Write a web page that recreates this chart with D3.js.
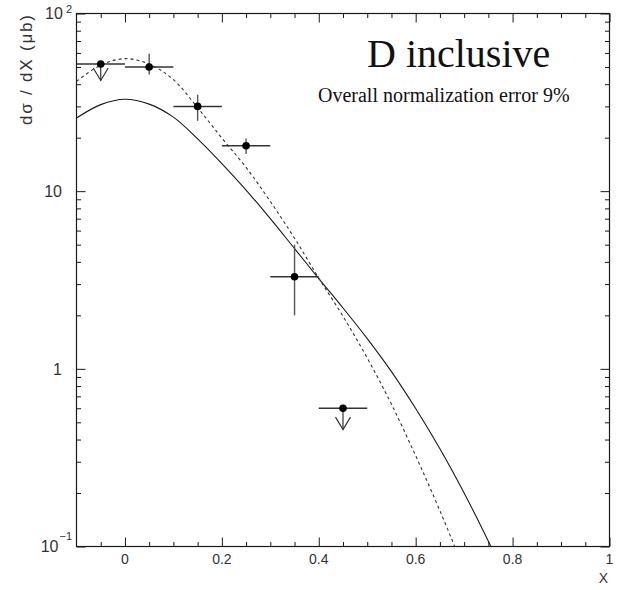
<!DOCTYPE html>
<html>
<head>
<meta charset="utf-8">
<script src="https://cdn.jsdelivr.net/npm/d3@7"></script>
<style>
  html, body { margin: 0; padding: 0; background: #fff; }
  svg { display: block; }
</style>
</head>
<body>
<svg id="chart" width="622" height="590"></svg>
<script>
// ---- data ----
const pointX    = [-0.05, 0.05, 0.15, 0.25, 0.35, 0.45];
const pointY    = [52, 50, 30, 18, 3.3, 0.6];
const binLo     = [-0.1, 0.0, 0.1, 0.2, 0.3, 0.4];
const binHi     = [0.0, 0.1, 0.2, 0.3, 0.4, 0.5];
const errHigh   = [null, 9.4, 4.9, 1.8, 1.7, null];
const errLow    = [null, 4.7, 5.1, 1.8, 1.3, null];
const upperLim  = [true, false, false, false, false, true];
const arrowTip  = [42, null, null, null, null, 0.455];

const solidX = [-0.1, -0.05, 0, 0.05, 0.1, 0.15, 0.2, 0.25, 0.3, 0.35, 0.4, 0.45, 0.5, 0.55, 0.6, 0.65, 0.7, 0.75, 0.77];
const solidY = [25.8, 30.7, 32.9, 30.9, 26.1, 19.7, 14.3, 10.15, 7.0, 4.75, 3.22, 2.2, 1.48, 0.965, 0.598, 0.355, 0.2, 0.107, 0.082];
const dashX  = [-0.1, -0.05, 0, 0.05, 0.1, 0.15, 0.2, 0.25, 0.3, 0.35, 0.4, 0.45, 0.5, 0.55, 0.6, 0.65, 0.7];
const dashY  = [41.5, 51.2, 55.7, 51.9, 42.4, 29.5, 19.9, 13.6, 8.75, 5.43, 3.24, 1.977, 1.151, 0.632, 0.324, 0.159, 0.0741];

const xMajor = [0, 0.2, 0.4, 0.6, 0.8, 1];
const xMajorLabels = ["0", "0.2", "0.4", "0.6", "0.8", "1"];
const xMinor = [-0.05, 0.05, 0.1, 0.15, 0.25, 0.3, 0.35, 0.45, 0.5, 0.55, 0.65, 0.7, 0.75, 0.85, 0.9, 0.95];
const yMajor = [0.1, 1, 10, 100];
const yMinor = [0.2,0.3,0.4,0.5,0.6,0.7,0.8,0.9,2,3,4,5,6,7,8,9,20,30,40,50,60,70,80,90];

const title = "D inclusive";
const subtitle = "Overall normalization error 9%";
const yTitle = "dσ / dX (μb)";
const xTitle = "X";

// ---- layout ----
const L = 76.5, R = 609.5, T = 13.5, B = 546.5;
const svg = d3.select("#chart");
const x = d3.scaleLinear().domain([-0.1, 1]).range([L, R]);
const y = d3.scaleLog().domain([0.1, 100]).range([B, T]);

const ink = "#1a1a1a";

svg.append("clipPath").attr("id", "clip").append("rect")
  .attr("x", L).attr("y", T).attr("width", R - L).attr("height", B - T);

function addAxis(axisFn, scale, vals, size, transform) {
  const g = svg.append("g").attr("transform", transform)
    .call(axisFn(scale).tickValues(vals).tickSize(-size).tickFormat(""));
  g.select(".domain").remove();
  g.selectAll(".tick line").attr("stroke", ink).attr("stroke-width", 1);
}
addAxis(d3.axisBottom, x, xMajor, 9, `translate(0,${B})`);
addAxis(d3.axisBottom, x, xMinor, 4.5, `translate(0,${B})`);
addAxis(d3.axisTop, x, xMajor, 9, `translate(0,${T})`);
addAxis(d3.axisTop, x, xMinor, 4.5, `translate(0,${T})`);
addAxis(d3.axisLeft, y, yMajor, 9, `translate(${L},0)`);
addAxis(d3.axisLeft, y, yMinor, 4.5, `translate(${L},0)`);
addAxis(d3.axisRight, y, yMajor, 9, `translate(${R},0)`);
addAxis(d3.axisRight, y, yMinor, 4.5, `translate(${R},0)`);

svg.append("rect").attr("x", L).attr("y", T).attr("width", R - L).attr("height", B - T)
  .attr("fill", "none").attr("stroke", ink).attr("stroke-width", 1.2);

const fontSans = "'Liberation Sans', Arial, sans-serif";
svg.append("g").selectAll("text").data(xMajor).join("text")
  .attr("x", d => x(d)).attr("y", 564)
  .attr("text-anchor", "middle")
  .attr("font-family", fontSans).attr("font-size", 14).attr("fill", "#333")
  .text((d, i) => xMajorLabels[i]);

const yl = svg.append("g").attr("font-family", fontSans).attr("fill", "#333");
yMajor.forEach(v => {
  const py = y(v);
  const e = Math.round(Math.log10(v));
  if (e === 0 || e === 1) {
    yl.append("text").attr("x", 62).attr("y", py).attr("dy", "0.36em")
      .attr("text-anchor", "end").attr("font-size", 16).text(e === 0 ? "1" : "10");
  } else {
    const t = yl.append("text").attr("x", 72).attr("y", py).attr("dy", "0.36em")
      .attr("text-anchor", "end").attr("font-size", 16);
    t.append("tspan").text("10");
    t.append("tspan").attr("font-size", 11).attr("dx", e < 0 ? 1 : 3)
      .attr("dy", e < 0 ? -12 : -6).text(e < 0 ? "\u2212" + (-e) : String(e));
  }
});

svg.append("text").attr("x", 608).attr("y", 583).attr("text-anchor", "end")
  .attr("font-family", fontSans).attr("font-size", 14).attr("fill", "#333").text(xTitle);
svg.append("text").attr("transform", "translate(32,125) rotate(-90)")
  .attr("text-anchor", "start").attr("font-family", fontSans).attr("font-size", 17)
  .attr("fill", "#333").attr("textLength", 110).attr("lengthAdjust", "spacing").text(yTitle);

const plot = svg.append("g").attr("clip-path", "url(#clip)");
const line = d3.line().x(d => x(d[0])).y(d => y(d[1])).curve(d3.curveCatmullRom.alpha(0.5));
plot.append("path").datum(solidX.map((v, i) => [v, solidY[i]]))
  .attr("d", line).attr("fill", "none").attr("stroke", ink).attr("stroke-width", 1.1);
plot.append("path").datum(dashX.map((v, i) => [v, dashY[i]]))
  .attr("d", line).attr("fill", "none").attr("stroke", "#333").attr("stroke-width", 1.1)
  .attr("stroke-dasharray", "3,3");

const pts = svg.append("g");
pointX.forEach((px, i) => {
  const cx = x(px), cy = y(pointY[i]);
  pts.append("line").attr("x1", x(binLo[i])).attr("x2", x(binHi[i]))
    .attr("y1", cy).attr("y2", cy).attr("stroke", "#333").attr("stroke-width", 1.5);
  if (!upperLim[i]) {
    pts.append("line").attr("x1", cx).attr("x2", cx)
      .attr("y1", y(pointY[i] + errHigh[i])).attr("y2", y(pointY[i] - errLow[i]))
      .attr("stroke", "#555").attr("stroke-width", 1.4);
  } else {
    const ty = y(arrowTip[i]);
    pts.append("line").attr("x1", cx).attr("x2", cx).attr("y1", cy).attr("y2", ty)
      .attr("stroke", "#333").attr("stroke-width", 1.2);
    pts.append("path")
      .attr("d", `M${cx - 7.5},${ty - 12.5}L${cx},${ty}L${cx + 7.5},${ty - 12.5}`)
      .attr("fill", "none").attr("stroke", "#333").attr("stroke-width", 1.2);
  }
  pts.append("circle").attr("cx", cx).attr("cy", cy).attr("r", 3.8).attr("fill", "#000");
});

const fontSerif = "'Liberation Serif', 'Times New Roman', serif";
svg.append("text").attr("x", 367).attr("y", 67).attr("font-family", fontSerif)
  .attr("font-size", 40).attr("fill", "#111").text(title);
svg.append("text").attr("x", 318).attr("y", 102).attr("font-family", fontSerif)
  .attr("font-size", 20).attr("fill", "#111").text(subtitle);
</script>
</body>
</html>
